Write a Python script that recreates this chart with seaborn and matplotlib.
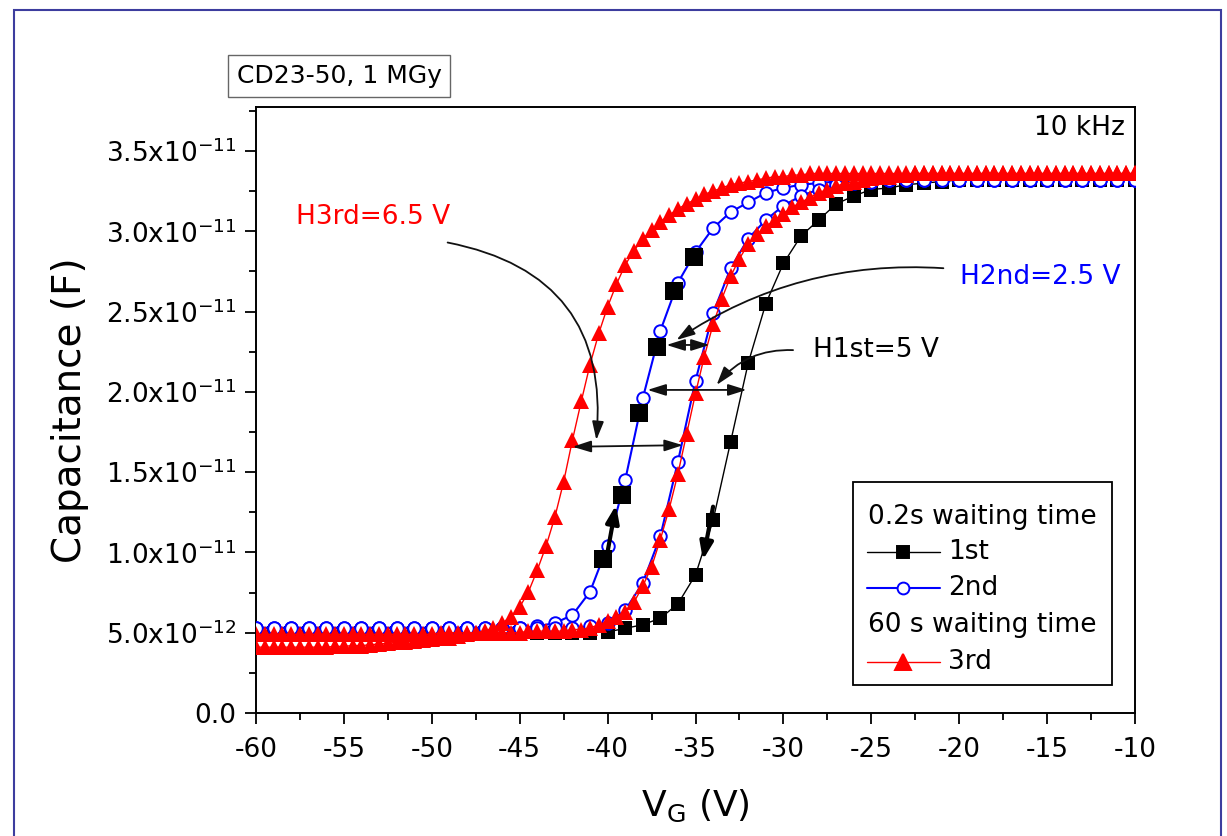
import numpy as np
import pandas as pd
import matplotlib
matplotlib.use("Agg")
import matplotlib.pyplot as plt
import seaborn as sns
from matplotlib.patches import Rectangle

# ---------------- data (capacitance in units of 1e-11 F) ----------------
v_fine = np.linspace(-60, -10, 101)     # 0.5 V sweep step (3rd)
v_coarse = np.linspace(-60, -10, 51)    # 1 V sweep step (1st, 2nd)

cap_3rd_left = [
    0.41, 0.41, 0.41, 0.41, 0.41, 0.41, 0.41, 0.41, 0.41, 0.415,
    0.415, 0.42, 0.42, 0.425, 0.43, 0.435, 0.44, 0.445, 0.45, 0.455,
    0.46, 0.465, 0.47, 0.48, 0.49, 0.50, 0.51, 0.53, 0.56, 0.60,
    0.66, 0.755, 0.89, 1.04, 1.22, 1.44, 1.70, 1.94, 2.17, 2.365,
    2.53, 2.67, 2.79, 2.88, 2.95, 3.01, 3.06, 3.10, 3.14, 3.17,
    3.20, 3.23, 3.25, 3.27, 3.29, 3.30, 3.31, 3.32, 3.33, 3.34,
    3.34, 3.35, 3.35, 3.36, 3.36, 3.36, 3.36, 3.36, 3.36, 3.36,
    3.36, 3.36, 3.36, 3.36, 3.36, 3.36, 3.36, 3.36, 3.36, 3.36,
    3.36, 3.36, 3.36, 3.36, 3.36, 3.36, 3.36, 3.36, 3.36, 3.36,
    3.36, 3.36, 3.36, 3.36, 3.36, 3.36, 3.36, 3.36, 3.36, 3.36,
    3.36,
]
cap_3rd_right = [
    0.49, 0.49, 0.49, 0.49, 0.49, 0.49, 0.49, 0.49, 0.49, 0.49,
    0.49, 0.49, 0.49, 0.49, 0.49, 0.49, 0.49, 0.49, 0.49, 0.49,
    0.49, 0.50, 0.50, 0.50, 0.50, 0.50, 0.50, 0.50, 0.50, 0.50,
    0.50, 0.51, 0.51, 0.51, 0.51, 0.51, 0.52, 0.52, 0.53, 0.55,
    0.57, 0.60, 0.63, 0.69, 0.79, 0.91, 1.08, 1.27, 1.49, 1.74,
    1.99, 2.22, 2.42, 2.58, 2.72, 2.83, 2.92, 2.98, 3.03, 3.07,
    3.11, 3.15, 3.18, 3.21, 3.24, 3.26, 3.28, 3.30, 3.31, 3.32,
    3.33, 3.34, 3.34, 3.35, 3.35, 3.36, 3.36, 3.36, 3.36, 3.36,
    3.36, 3.36, 3.36, 3.36, 3.36, 3.36, 3.36, 3.36, 3.36, 3.36,
    3.36, 3.36, 3.36, 3.36, 3.36, 3.36, 3.36, 3.36, 3.36, 3.36,
    3.36,
]
cap_2nd_left = [
    0.53, 0.53, 0.53, 0.53, 0.53, 0.53, 0.53, 0.53, 0.53, 0.53,
    0.53, 0.53, 0.53, 0.53, 0.53, 0.53, 0.54, 0.56, 0.61, 0.755,
    1.04, 1.45, 1.96, 2.38, 2.68, 2.87, 3.02, 3.12, 3.18, 3.24,
    3.27, 3.29, 3.30, 3.31, 3.32, 3.32, 3.32, 3.32, 3.32, 3.32,
    3.32, 3.32, 3.32, 3.32, 3.32, 3.32, 3.32, 3.32, 3.32, 3.32,
    3.32,
]
cap_2nd_right = [
    0.53, 0.53, 0.53, 0.53, 0.53, 0.53, 0.53, 0.53, 0.53, 0.53,
    0.53, 0.53, 0.53, 0.53, 0.53, 0.53, 0.53, 0.53, 0.53, 0.54,
    0.56, 0.64, 0.81, 1.10, 1.565, 2.07, 2.49, 2.77, 2.955, 3.07,
    3.16, 3.22, 3.26, 3.29, 3.30, 3.31, 3.32, 3.32, 3.32, 3.32,
    3.32, 3.32, 3.32, 3.32, 3.32, 3.32, 3.32, 3.32, 3.32, 3.32,
    3.32,
]
cap_1st_right = [
    0.50, 0.50, 0.50, 0.50, 0.50, 0.50, 0.50, 0.50, 0.50, 0.50,
    0.50, 0.50, 0.50, 0.50, 0.50, 0.50, 0.50, 0.50, 0.50, 0.50,
    0.505, 0.527, 0.55, 0.59, 0.68, 0.86, 1.20, 1.69, 2.18, 2.55,
    2.80, 2.97, 3.07, 3.17, 3.22, 3.26, 3.27, 3.29, 3.30, 3.31,
    3.32, 3.32, 3.32, 3.32, 3.32, 3.32, 3.32, 3.32, 3.32, 3.32,
    3.32,
]
v_1st_left = [-40.25, -39.2, -38.2, -37.2, -36.2, -35.1]
cap_1st_left = [0.96, 1.36, 1.87, 2.28, 2.63, 2.84]

y_ticks = [0, 0.5, 1.0, 1.5, 2.0, 2.5, 3.0, 3.5]
y_ticklabels = ["0.0", r"5.0x10$^{-12}$", r"1.0x10$^{-11}$", r"1.5x10$^{-11}$",
                r"2.0x10$^{-11}$", r"2.5x10$^{-11}$", r"3.0x10$^{-11}$", r"3.5x10$^{-11}$"]
x_ticks = [-60, -55, -50, -45, -40, -35, -30, -25, -20, -15, -10]
x_ticklabels = ["-60", "-55", "-50", "-45", "-40", "-35", "-30", "-25", "-20", "-15", "-10"]

# ---------------- style ----------------
sns.set_style("ticks")
plt.rcParams["font.family"] = ["DejaVu Sans"]
plt.rcParams["mathtext.default"] = "regular"
plt.rcParams["text.color"] = "black"
plt.rcParams["axes.labelcolor"] = "black"
plt.rcParams["xtick.color"] = "black"
plt.rcParams["ytick.color"] = "black"

fig = plt.figure(figsize=(12.27, 8.36), dpi=100)
fig.patch.set_facecolor("white")
ax = fig.add_axes([0.20864, 0.14713, 0.71638, 0.72488])

# ---------------- curves ----------------
sns.lineplot(x=v_coarse, y=cap_1st_right, ax=ax, color="black", lw=1.0,
             marker="s", markersize=9.5, markeredgecolor="black", markeredgewidth=0,
             estimator=None, legend=False, zorder=2)
sns.lineplot(x=v_coarse, y=cap_2nd_left, ax=ax, color="#0000ff", lw=1.5,
             marker="o", markersize=9, markerfacecolor="white", markeredgecolor="#0000ff",
             markeredgewidth=1.4, estimator=None, legend=False, zorder=3)
sns.lineplot(x=v_coarse, y=cap_2nd_right, ax=ax, color="#0000ff", lw=1.5,
             marker="o", markersize=9, markerfacecolor="white", markeredgecolor="#0000ff",
             markeredgewidth=1.4, estimator=None, legend=False, zorder=3)
sns.lineplot(x=v_fine, y=cap_3rd_left, ax=ax, color="#ff0000", lw=1.0,
             marker="^", markersize=11.5, markeredgecolor="#ff0000", markeredgewidth=0,
             estimator=None, legend=False, zorder=4)
sns.lineplot(x=v_fine, y=cap_3rd_right, ax=ax, color="#ff0000", lw=1.0,
             marker="^", markersize=11.5, markeredgecolor="#ff0000", markeredgewidth=0,
             estimator=None, legend=False, zorder=4)
sns.scatterplot(x=v_1st_left, y=cap_1st_left, ax=ax, marker="s", s=180,
                color="black", edgecolor="black", linewidth=0, zorder=5, legend=False)

# ---------------- axes ----------------
ax.set_xlim(-60, -10)
ax.set_ylim(0, 3.774)
ax.set_xticks(x_ticks, x_ticklabels)
ax.set_yticks(y_ticks, y_ticklabels)
ax.set_xticks([-57.5, -52.5, -47.5, -42.5, -37.5, -32.5, -27.5, -22.5, -17.5, -12.5], minor=True)
ax.set_yticks([0.25, 0.75, 1.25, 1.75, 2.25, 2.75, 3.25, 3.75], minor=True)
ax.tick_params(which="major", direction="out", length=8, width=1.3, labelsize=19,
               colors="black", pad=6)
ax.tick_params(which="minor", direction="out", length=5, width=1.3)
ax.tick_params(axis="x", pad=9)
for sp in ax.spines.values():
    sp.set_visible(True)
    sp.set_linewidth(1.4)
    sp.set_color("black")

ax.set_xlabel(r"V$_\mathregular{G}$ (V)", fontsize=26, labelpad=18)
ax.set_ylabel("Capacitance (F)", fontsize=28, labelpad=12)

# ---------------- annotations ----------------
thin = dict(color="#111111", lw=1.3, shrinkA=0, shrinkB=0, mutation_scale=16)
dbl = dict(arrowstyle="<|-|>,head_length=0.7,head_width=0.22", **thin)
ax.annotate("", xy=(-35.72, 1.668), xytext=(-41.99, 1.658), arrowprops=dbl, zorder=6)
ax.annotate("", xy=(-32.1, 2.012), xytext=(-37.73, 2.012), arrowprops=dbl, zorder=6)
ax.annotate("", xy=(-34.2, 2.292), xytext=(-36.65, 2.292), arrowprops=dbl, zorder=6)

curve = dict(arrowstyle="-|>,head_length=0.7,head_width=0.22", **thin)
ax.annotate("", xy=(-40.64, 1.70), xytext=(-49.1, 2.93),
            arrowprops=dict(connectionstyle="arc3,rad=-0.45", **curve), zorder=6)
ax.annotate("", xy=(-36.08, 2.323), xytext=(-20.9, 2.77),
            arrowprops=dict(connectionstyle="arc3,rad=0.17", **curve), zorder=6)
ax.annotate("", xy=(-33.8, 2.043), xytext=(-29.45, 2.26),
            arrowprops=dict(connectionstyle="arc3,rad=0.25", **curve), zorder=6)

thick = dict(arrowstyle="-|>,head_length=0.8,head_width=0.3", color="black", lw=3,
             shrinkA=0, shrinkB=0, mutation_scale=13)
ax.annotate("", xy=(-39.52, 1.295), xytext=(-40.0, 1.005), arrowprops=thick, zorder=6)
ax.annotate("", xy=(-34.58, 0.953), xytext=(-34.0, 1.285), arrowprops=thick, zorder=6)

ax.text(-57.72, 3.089, "H3rd=6.5 V", color="#ff0000", fontsize=19, ha="left", va="center")
ax.text(-19.97, 2.715, "H2nd=2.5 V", color="#0000ff", fontsize=19, ha="left", va="center")
ax.text(-28.34, 2.26, "H1st=5 V", color="black", fontsize=19, ha="left", va="center")
ax.text(-10.57, 3.643, "10 kHz", color="black", fontsize=19, ha="right", va="center")

fig.text(0.2763, 0.909, "CD23-50, 1 MGy", fontsize=18, ha="center", va="center",
         color="black",
         bbox=dict(boxstyle="square,pad=0.35", fc="white", ec="#666666", lw=1))

# ---------------- legend (manual, with group headers) ----------------
ax.add_patch(Rectangle((0.6795, 0.0462), 0.294, 0.3355, transform=ax.transAxes,
                       facecolor="white", edgecolor="black", lw=1.3, zorder=7))
rows = [0.3239, 0.2662, 0.2058, 0.1452, 0.0847]
ax.text(0.6962, rows[0], "0.2s waiting time", transform=ax.transAxes, fontsize=19,
        ha="left", va="center", color="black", zorder=8)
ax.text(0.6962, rows[3], "60 s waiting time", transform=ax.transAxes, fontsize=19,
        ha="left", va="center", color="black", zorder=8)
entries = [
    (rows[1], "1st", "black", "s", 9, "black", 1.0),
    (rows[2], "2nd", "#0000ff", "o", 8.5, "white", 1.5),
    (rows[4], "3rd", "#ff0000", "^", 12, "#ff0000", 1.0),
]
for y, lab, col, mk, ms, mfc, lw in entries:
    ax.plot([0.6948, 0.7782], [y, y], transform=ax.transAxes, color=col, lw=lw,
            clip_on=False, zorder=8)
    ax.plot([0.7365], [y], transform=ax.transAxes, color=col, marker=mk, markersize=ms,
            markerfacecolor=mfc, markeredgecolor=col, markeredgewidth=1.4,
            clip_on=False, zorder=9)
    ax.text(0.7876, y, lab, transform=ax.transAxes, fontsize=19, ha="left",
            va="center", color="black", zorder=8)

# ---------------- outer frame ----------------
fig.add_artist(Rectangle((14 / 1227, -0.1), (1221 - 14) / 1227, 1.088,
                         transform=fig.transFigure, fill=False, ec="#3d3d9e", lw=1.5))

fig.savefig("out.png", dpi=100, facecolor="white")
